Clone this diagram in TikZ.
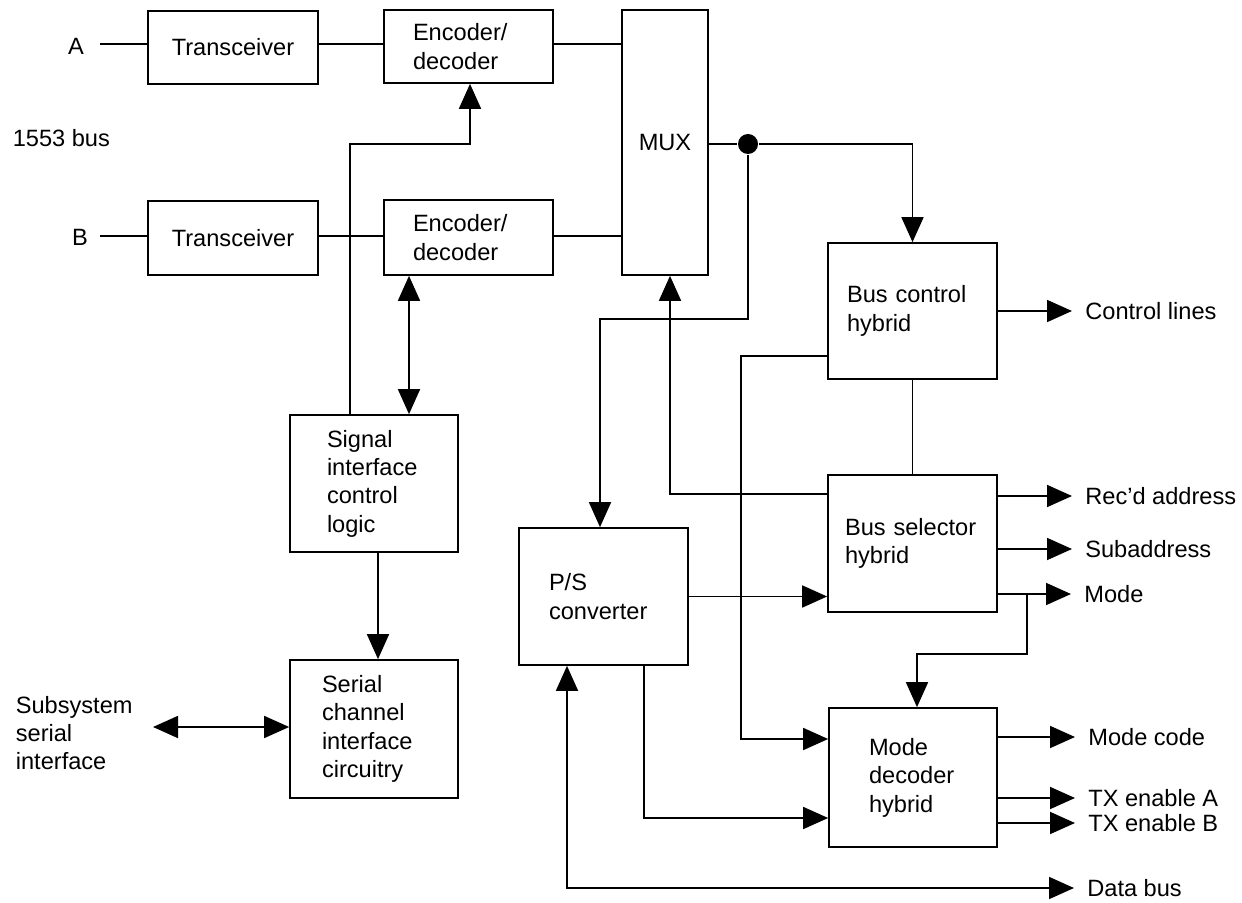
\documentclass[tikz,border=0pt]{standalone}
\usepackage{fontspec}
\setmainfont{Liberation Sans}
\usetikzlibrary{arrows.meta}
\newcommand\figfont{\fontsize{11.8pt}{14.2pt}\selectfont}
\begin{document}
\begin{tikzpicture}[x=0.5pt,y=-0.5pt,
  line width=0.85pt,
  every node/.style={font=\figfont},
  blk/.style={draw, line width=0.85pt, align=left, inner ysep=0pt},
  cblk/.style={draw, line width=0.85pt, align=center, inner sep=0pt},
  lbl/.style={inner sep=0pt},
  outl/.style={anchor=west, inner xsep=6.25pt, inner ysep=0pt},
  arr/.style={-{Triangle[length=12.5pt,width=11pt]}},
  dbl/.style={{Triangle[length=12.5pt,width=11pt]}-{Triangle[length=12.5pt,width=11pt]}},
  dotn/.style={circle, fill=black, inner sep=0pt, minimum size=10pt}]
\useasboundingbox (0,0) rectangle (1242,903);

% blocks
\node[cblk, minimum width=85pt, minimum height=36.5pt] (TrA) at (233,47.5) {Transceiver};
\node[cblk, minimum width=85pt, minimum height=37pt] (TrB) at (233,238) {Transceiver};
\node[blk, text width=55.5pt, inner xsep=14.5pt, minimum height=36.5pt] (EncA) at (468.5,46.5) {Encoder/\\decoder};
\node[blk, text width=55.5pt, inner xsep=14.5pt, minimum height=37.5pt] (EncB) at (468.5,237.5) {Encoder/\\decoder};
\node[cblk, minimum width=43pt, minimum height=132.5pt] (MUX) at (665,142.5) {MUX};
\node[blk, text width=65.5pt, inner xsep=9.5pt, minimum height=68pt] (BusCtl) at (912.5,311) {Bus control\\hybrid};
\node[blk, text width=67.5pt, inner xsep=8.5pt, minimum height=68.5pt] (BusSel) at (912.5,543.5) {Bus selector\\hybrid};
\node[blk, text width=44pt, inner xsep=20pt, minimum height=69.5pt] (ModeDec) at (913,777.5) {Mode\\decoder\\hybrid};
\node[blk, text width=54.5pt, inner xsep=15pt, minimum height=68.5pt] (PS) at (603.5,596.5) {P/S\\converter};
\node[blk, text width=47pt, inner xsep=18.5pt, minimum height=68.5pt] (Sig) at (374,483.5) {Signal\\interface\\control\\logic};
\node[blk, text width=52pt, inner xsep=16pt, minimum height=69pt] (Ser) at (374,729) {Serial\\channel\\interface\\circuitry};

% free labels
\node[lbl] (lA) at (76,46) {A};
\node[lbl] (lB) at (80,237) {B};
\node[lbl, anchor=west] (lBus) at (12,138) {1553 bus};
\node[lbl, anchor=west, align=left] (lSub) at (15,733) {Subsystem\\serial\\interface};

% output labels
\node[outl] (tCL) at (1072,311) {Control lines};
\node[outl] (tRA) at (1072,496) {Rec'd address};
\node[outl] (tSA) at (1072,549) {Subaddress};
\node[outl] (tMo) at (1071,594) {Mode};
\node[outl] (tMC) at (1075,737) {Mode code};
\node[outl] (tTA) at (1075,798) {TX enable A};
\node[outl] (tTB) at (1075,823) {TX enable B};
\node[outl] (tDB) at (1074,888) {Data bus};

% junction dot
\node[dotn] (dot) at (748,144) {};

% coordinates
\coordinate (a0) at (100,44);
\coordinate (b0) at (100,236);
\coordinate (k1) at (600,319);
\coordinate (k2) at (670,494);
\coordinate (k3) at (741,356);
\coordinate (k3b) at (741,739);
\coordinate (k4) at (644,818);
\coordinate (k5) at (567,888);
\coordinate (m1) at (1027,594);
\coordinate (m2) at (1027,654);
\coordinate (m3) at (917,654);
\coordinate (s1) at (350,144);
\coordinate (s2) at (470,144);
\coordinate (s3) at (409,300);
\coordinate (s4) at (378,600);
\coordinate (s5) at (153,727);

% bus lines
\draw (a0) -- (a0 -| TrA.west);
\draw (b0) -- (b0 -| TrB.west);
\draw (TrA.east |- a0) -- (EncA.west |- a0);
\draw (TrB.east |- b0) -- (EncB.west |- b0);
\draw (EncA.east |- a0) -- (MUX.west |- a0);
\draw (EncB.east |- b0) -- (MUX.west |- b0);

% MUX output
\draw (MUX.east |- dot) -- (dot);
\draw[arr] (dot) -| (BusCtl.north);
\draw[arr] (dot) |- (k1) -- (k1 |- PS.north);
\draw[arr] (BusSel.west |- k2) -- (k2) -- (k2 |- MUX.south);

% bus control / selector
\draw (BusCtl.south) -- (BusSel.north);
\draw[arr] (BusCtl.west |- k3) -- (k3) -- (k3b) -- (k3b -| ModeDec.west);
\draw[arr] (BusCtl.east |- tCL.west) -- (tCL.west);
\draw[arr] (BusSel.east |- tRA.west) -- (tRA.west);
\draw[arr] (BusSel.east |- tSA.west) -- (tSA.west);
\draw[arr] (BusSel.east |- tMo.west) -- (tMo.west);
\draw[arr] (m1) -- (m2) -- (m3) -- (m3 |- ModeDec.north);

% mode decoder outputs
\draw[arr] (ModeDec.east |- tMC.west) -- (tMC.west);
\draw[arr] (ModeDec.east |- tTA.west) -- (tTA.west);
\draw[arr] (ModeDec.east |- tTB.west) -- (tTB.west);

% P/S converter
\draw[arr] (PS.east) -- (PS.east -| BusSel.west);
\draw[arr] (k4 |- PS.south) -- (k4) -- (k4 -| ModeDec.west);
\draw[dbl] (k5 |- PS.south) -- (k5) -- (tDB.west);

% signal interface
\draw[arr] (s1 |- Sig.north) -- (s1) -- (s2) -- (s2 |- EncA.south);
\draw[dbl] (s3 |- EncB.south) -- (s3 |- Sig.north);
\draw[arr] (s4 |- Sig.south) -- (s4 |- Ser.north);
\draw[dbl] (s5) -- (s5 -| Ser.west);
\end{tikzpicture}
\end{document}
